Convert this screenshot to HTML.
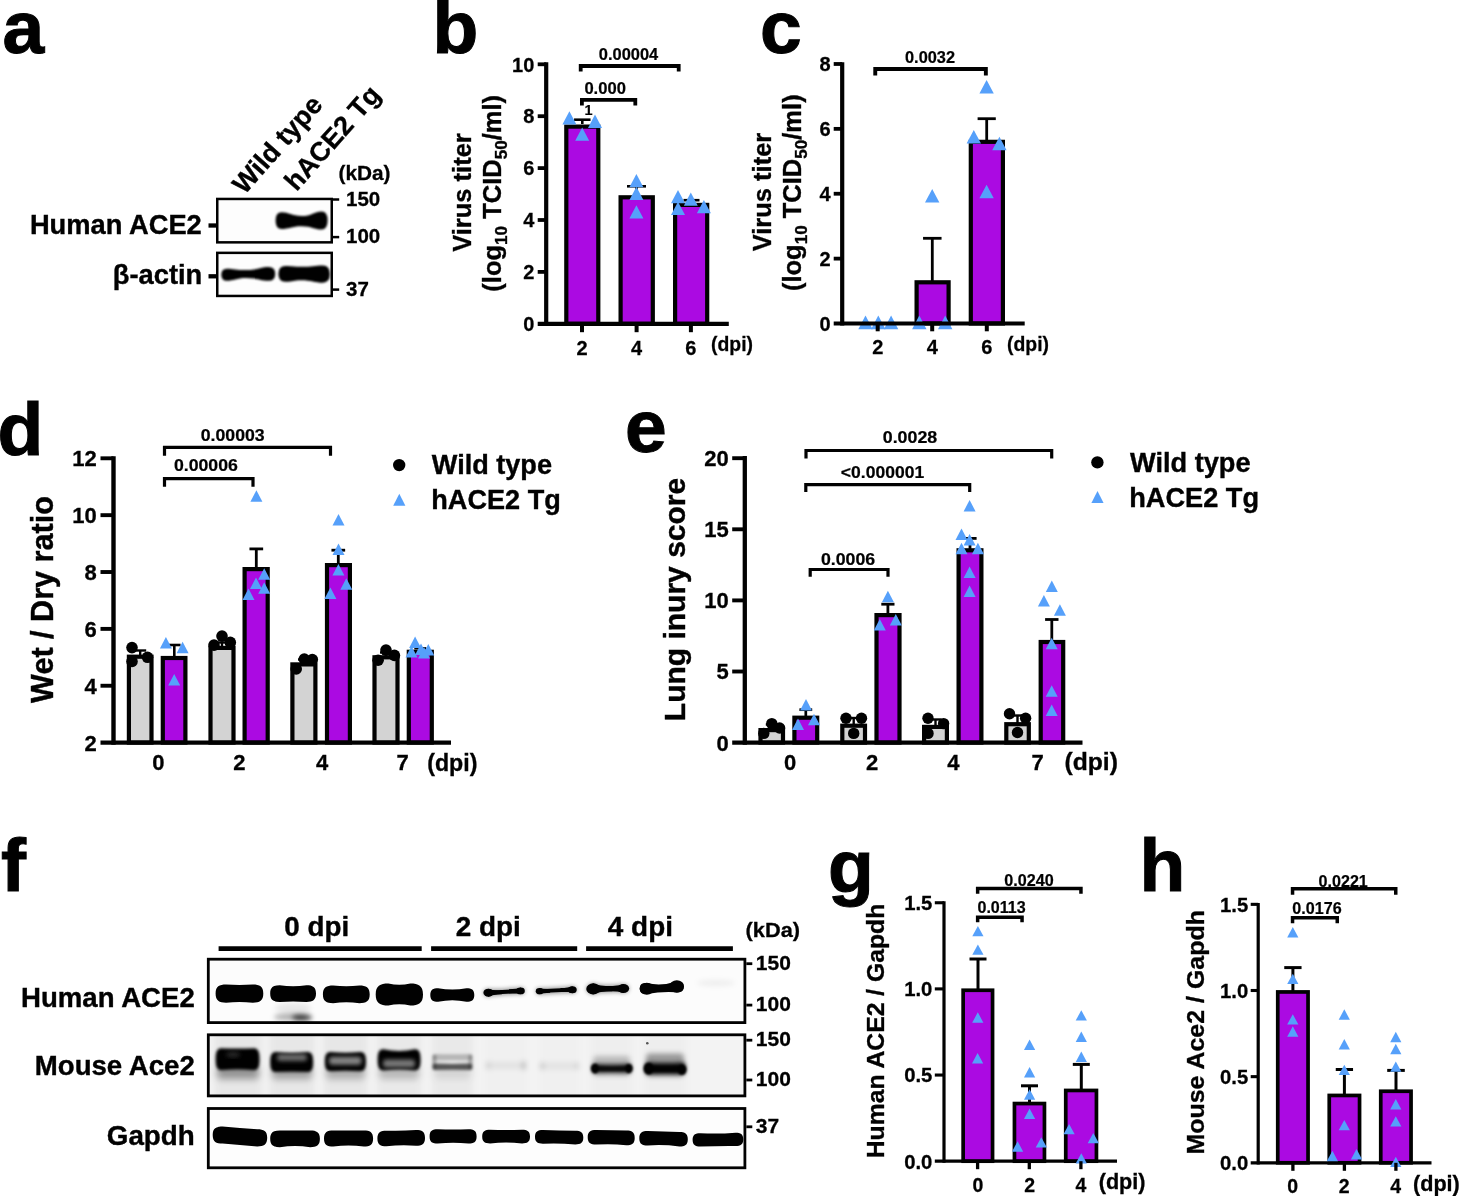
<!DOCTYPE html>
<html><head><meta charset="utf-8"><title>Figure</title>
<style>html,body{margin:0;padding:0;background:#fff}svg{display:block}text{font-family:"Liberation Sans",sans-serif;font-weight:bold;fill:#000;stroke:#000;stroke-width:.014em}</style></head><body>
<svg width="1460" height="1196" viewBox="0 0 1460 1196">
<defs><filter id="b0" x="-20%" y="-50%" width="140%" height="200%"><feGaussianBlur stdDeviation="0.7"/></filter><filter id="b1" x="-20%" y="-50%" width="140%" height="200%"><feGaussianBlur stdDeviation="1.3"/></filter><filter id="b13" x="-20%" y="-60%" width="140%" height="220%"><feGaussianBlur stdDeviation="1.55"/></filter><filter id="b15" x="-20%" y="-60%" width="140%" height="220%"><feGaussianBlur stdDeviation="1.9"/></filter><filter id="b2" x="-20%" y="-60%" width="140%" height="220%"><feGaussianBlur stdDeviation="2.4"/></filter><filter id="b3" x="-20%" y="-80%" width="140%" height="260%"><feGaussianBlur stdDeviation="3.5"/></filter></defs>
<rect width="1460" height="1196" fill="#fff"/>
<g opacity="0.999">
<text x="2.5" y="53" font-size="75">a</text>
<text x="432.5" y="53" font-size="75">b</text>
<text x="760" y="53" font-size="75">c</text>
<text x="-2.5" y="455" font-size="75">d</text>
<text x="625" y="452" font-size="75">e</text>
<text x="1" y="891" font-size="75">f</text>
<text x="828" y="891.5" font-size="75">g</text>
<text x="1139.5" y="891" font-size="75">h</text>
<text x="244.5" y="195.3" font-size="27" transform="rotate(-48.5 244.5 195.3)">Wild type</text>
<text x="296.5" y="192.2" font-size="27" transform="rotate(-48.5 296.5 192.2)">hACE2 Tg</text>
<text x="338.5" y="179.8" font-size="21" textLength="52" lengthAdjust="spacingAndGlyphs">(kDa)</text>
<text x="201.8" y="233.8" font-size="27.3" text-anchor="end">Human ACE2</text>
<text x="202.3" y="284" font-size="27.3" text-anchor="end">β-actin</text>
<line x1="208.5" y1="225.5" x2="217" y2="225.5" stroke="#000" stroke-width="4.3"/>
<line x1="208.5" y1="276.3" x2="217" y2="276.3" stroke="#000" stroke-width="4.3"/>
<rect x="217.25" y="198.95" width="114.5" height="43.4" fill="#fdfdfd" stroke="#000" stroke-width="2.5"/>
<rect x="217.25" y="252.85" width="114.5" height="43.1" fill="#fdfdfd" stroke="#000" stroke-width="2.5"/>
<line x1="333" y1="199.5" x2="339.2" y2="199.5" stroke="#000" stroke-width="2.5"/>
<text x="346" y="205.5" font-size="20.5">150</text>
<line x1="333" y1="237.1" x2="339.2" y2="237.1" stroke="#000" stroke-width="2.5"/>
<text x="346" y="243.1" font-size="20.5">100</text>
<line x1="333" y1="289.6" x2="339.2" y2="289.6" stroke="#000" stroke-width="2.5"/>
<text x="346" y="295.6" font-size="20.5">37</text>
<g filter="url(#b1)">
<path d="M275.6 220.65 Q275.6 212.3 281.6 212.3 C288.8 212.3 291.6 216 301.6 216 C311.6 216 314.4 211.4 321.6 211.4 Q327.6 211.4 327.6 220.45 Q327.6 229.5 321.6 229.5 C314.4 229.5 311.6 226.2 301.6 226.2 C291.6 226.2 288.8 229 281.6 229 Q275.6 229 275.6 220.65Z" fill="#000"/>
<path d="M221.3 274.75 Q221.3 268.7 226.8 268.7 C233.4 268.7 236.4 270.1 246 270.1 C257.35 270.1 260.9 267.1 268.7 267.1 Q275.2 267.1 275.2 273.95 Q275.2 280.8 268.7 280.8 C260.9 280.8 257.35 278 246 278 C236.4 278 233.4 280.8 226.8 280.8 Q221.3 280.8 221.3 274.75Z" fill="#000"/>
<path d="M278.4 273.85 Q278.4 265.9 285.4 265.9 C293.8 265.9 293.2 266.8 301 266.8 C311.95 266.8 314.5 265.4 322.9 265.4 Q329.9 265.4 329.9 274.05 Q329.9 282.7 322.9 282.7 C314.5 282.7 311.95 280.2 301 280.2 C293.2 280.2 293.8 281.8 285.4 281.8 Q278.4 281.8 278.4 273.85Z" fill="#000"/>
</g>
<rect x="566.3" y="126.6" width="32" height="197.2" fill="#AB0AE2" stroke="#000" stroke-width="4.2"/>
<rect x="620.6" y="197.3" width="32.2" height="126.5" fill="#AB0AE2" stroke="#000" stroke-width="4.2"/>
<rect x="675.1" y="204.9" width="32.1" height="118.9" fill="#AB0AE2" stroke="#000" stroke-width="4.2"/>
<line x1="582.3" y1="119.7" x2="582.3" y2="124" stroke="#000" stroke-width="2.6"/>
<line x1="574.05" y1="119.7" x2="590.55" y2="119.7" stroke="#000" stroke-width="2.6"/>
<line x1="636.5" y1="186.3" x2="636.5" y2="195.5" stroke="#000" stroke-width="2.6"/>
<line x1="627" y1="186.3" x2="646" y2="186.3" stroke="#000" stroke-width="2.6"/>
<line x1="691.5" y1="200.2" x2="691.5" y2="203.5" stroke="#000" stroke-width="2.6"/>
<line x1="683.5" y1="200.2" x2="699.5" y2="200.2" stroke="#000" stroke-width="2.6"/>
<line x1="546.2" y1="62.2" x2="546.2" y2="325.9" stroke="#000" stroke-width="4.2"/>
<line x1="537.7" y1="323.8" x2="728.8" y2="323.8" stroke="#000" stroke-width="4.2"/>
<line x1="537.7" y1="271.9" x2="546.2" y2="271.9" stroke="#000" stroke-width="3.8"/>
<line x1="537.7" y1="220" x2="546.2" y2="220" stroke="#000" stroke-width="3.8"/>
<line x1="537.7" y1="168.1" x2="546.2" y2="168.1" stroke="#000" stroke-width="3.8"/>
<line x1="537.7" y1="116.2" x2="546.2" y2="116.2" stroke="#000" stroke-width="3.8"/>
<line x1="537.7" y1="64.3" x2="546.2" y2="64.3" stroke="#000" stroke-width="3.8"/>
<line x1="582" y1="323.8" x2="582" y2="332.2" stroke="#000" stroke-width="4"/>
<line x1="636.6" y1="323.8" x2="636.6" y2="332.2" stroke="#000" stroke-width="4"/>
<line x1="690.9" y1="323.8" x2="690.9" y2="332.2" stroke="#000" stroke-width="4"/>
<text x="534.3" y="331" font-size="20" text-anchor="end">0</text>
<text x="534.3" y="279.1" font-size="20" text-anchor="end">2</text>
<text x="534.3" y="227.2" font-size="20" text-anchor="end">4</text>
<text x="534.3" y="175.3" font-size="20" text-anchor="end">6</text>
<text x="534.3" y="123.4" font-size="20" text-anchor="end">8</text>
<text x="534.3" y="71.5" font-size="20" text-anchor="end">10</text>
<text x="582" y="355" font-size="20" text-anchor="middle">2</text>
<text x="636.6" y="355" font-size="20" text-anchor="middle">4</text>
<text x="690.9" y="355" font-size="20" text-anchor="middle">6</text>
<text x="711" y="351" font-size="19.5" textLength="42" lengthAdjust="spacingAndGlyphs">(dpi)</text>
<text x="470.7" y="192.5" font-size="25.5" text-anchor="middle" transform="rotate(-90 470.7 192.5)">Virus titer</text>
<text x="501" y="193.3" font-size="25.5" text-anchor="middle" transform="rotate(-90 501 193.3)">(log<tspan font-size="17.09" dy="5.87">10</tspan><tspan dy="-5.87"> TCID</tspan><tspan font-size="17.09" dy="5.87">50</tspan><tspan dy="-5.87">/ml)</tspan></text>
<polygon points="569.4,111.3 562.4,124.6 576.4,124.6" fill="#56A0FA"/>
<polygon points="595,114.6 588,127.9 602,127.9" fill="#56A0FA"/>
<polygon points="582.2,127.5 575.2,140.8 589.2,140.8" fill="#56A0FA"/>
<polygon points="636.4,174 629.4,187.3 643.4,187.3" fill="#56A0FA"/>
<polygon points="636.4,186.8 629.4,200.1 643.4,200.1" fill="#56A0FA"/>
<polygon points="636.4,205.2 629.4,218.5 643.4,218.5" fill="#56A0FA"/>
<polygon points="678,190 671,203.3 685,203.3" fill="#56A0FA"/>
<polygon points="690.8,192.4 683.8,205.7 697.8,205.7" fill="#56A0FA"/>
<polygon points="678,201.8 671,215.1 685,215.1" fill="#56A0FA"/>
<polygon points="703.9,200 696.9,213.3 710.9,213.3" fill="#56A0FA"/>
<path d="M580.7 71.6 V66 H678.7 V71.6" fill="none" stroke="#000" stroke-width="3.8"/>
<text x="628.5" y="60" font-size="16" text-anchor="middle" textLength="59.5" lengthAdjust="spacingAndGlyphs">0.00004</text>
<path d="M581.9 105.6 V99.9 H635.3 V105.6" fill="none" stroke="#000" stroke-width="3.8"/>
<text x="584.4" y="94" font-size="16" textLength="41.5" lengthAdjust="spacingAndGlyphs">0.000</text>
<text x="584.4" y="114.6" font-size="14.5">1</text>
<rect x="916.6" y="282.3" width="32" height="41.2" fill="#AB0AE2" stroke="#000" stroke-width="4.2"/>
<rect x="970.8" y="141.84" width="32.1" height="181.66" fill="#AB0AE2" stroke="#000" stroke-width="4.2"/>
<line x1="932.3" y1="238.3" x2="932.3" y2="281" stroke="#000" stroke-width="2.8"/>
<line x1="923.05" y1="238.3" x2="941.55" y2="238.3" stroke="#000" stroke-width="2.8"/>
<line x1="986.7" y1="118.7" x2="986.7" y2="140.5" stroke="#000" stroke-width="2.8"/>
<line x1="977.6" y1="118.7" x2="995.8" y2="118.7" stroke="#000" stroke-width="2.8"/>
<text x="830.7" y="330.7" font-size="20" text-anchor="end">0</text>
<text x="830.7" y="265.82" font-size="20" text-anchor="end">2</text>
<text x="830.7" y="200.94" font-size="20" text-anchor="end">4</text>
<text x="830.7" y="136.06" font-size="20" text-anchor="end">6</text>
<text x="830.7" y="71.18" font-size="20" text-anchor="end">8</text>
<polygon points="865.5,315.6 858.3,329.2 872.7,329.2" fill="#56A0FA"/>
<polygon points="878.3,315.6 871.1,329.2 885.5,329.2" fill="#56A0FA"/>
<polygon points="891.1,315.6 883.9,329.2 898.3,329.2" fill="#56A0FA"/>
<polygon points="919.3,315.6 912.1,329.2 926.5,329.2" fill="#56A0FA"/>
<polygon points="945.2,315.6 938,329.2 952.4,329.2" fill="#56A0FA"/>
<polygon points="932.2,189 925,202.6 939.4,202.6" fill="#56A0FA"/>
<polygon points="986.6,79.9 979.4,93.5 993.8,93.5" fill="#56A0FA"/>
<polygon points="973.8,130 966.6,143.6 981,143.6" fill="#56A0FA"/>
<polygon points="999.4,136.7 992.2,150.3 1006.6,150.3" fill="#56A0FA"/>
<polygon points="986.6,184.7 979.4,198.3 993.8,198.3" fill="#56A0FA"/>
<line x1="842.2" y1="62.2" x2="842.2" y2="325.6" stroke="#000" stroke-width="4.2"/>
<line x1="833.7" y1="323.5" x2="1024.7" y2="323.5" stroke="#000" stroke-width="4.2"/>
<line x1="833.7" y1="258.62" x2="842.2" y2="258.62" stroke="#000" stroke-width="3.8"/>
<line x1="833.7" y1="193.74" x2="842.2" y2="193.74" stroke="#000" stroke-width="3.8"/>
<line x1="833.7" y1="128.86" x2="842.2" y2="128.86" stroke="#000" stroke-width="3.8"/>
<line x1="833.7" y1="63.98" x2="842.2" y2="63.98" stroke="#000" stroke-width="3.8"/>
<line x1="877.7" y1="323.5" x2="877.7" y2="331.3" stroke="#000" stroke-width="4"/>
<line x1="932.2" y1="323.5" x2="932.2" y2="331.3" stroke="#000" stroke-width="4"/>
<line x1="986.8" y1="323.5" x2="986.8" y2="331.3" stroke="#000" stroke-width="4"/>
<text x="877.9" y="354.3" font-size="20" text-anchor="middle">2</text>
<text x="932.4" y="354.3" font-size="20" text-anchor="middle">4</text>
<text x="986.9" y="354.3" font-size="20" text-anchor="middle">6</text>
<text x="1007" y="350.5" font-size="19.5" textLength="42" lengthAdjust="spacingAndGlyphs">(dpi)</text>
<text x="770.9" y="192" font-size="25.5" text-anchor="middle" transform="rotate(-90 770.9 192)">Virus titer</text>
<text x="801" y="192.7" font-size="25.5" text-anchor="middle" transform="rotate(-90 801 192.7)">(log<tspan font-size="17.09" dy="5.87">10</tspan><tspan dy="-5.87"> TCID</tspan><tspan font-size="17.09" dy="5.87">50</tspan><tspan dy="-5.87">/ml)</tspan></text>
<path d="M875.25 75.4 V69.05 H985.85 V75.4" fill="none" stroke="#000" stroke-width="3.9"/>
<text x="930" y="62.5" font-size="16" text-anchor="middle" textLength="50" lengthAdjust="spacingAndGlyphs">0.0032</text>
<rect x="128.9" y="656.7" width="22.6" height="85.9" fill="#D3D3D3" stroke="#000" stroke-width="4.2"/>
<rect x="210.5" y="647.9" width="23" height="94.7" fill="#D3D3D3" stroke="#000" stroke-width="4.2"/>
<rect x="292.4" y="664.4" width="23" height="78.2" fill="#D3D3D3" stroke="#000" stroke-width="4.2"/>
<rect x="374.5" y="657.3" width="23" height="85.3" fill="#D3D3D3" stroke="#000" stroke-width="4.2"/>
<rect x="162.8" y="658" width="22.6" height="84.6" fill="#AB0AE2" stroke="#000" stroke-width="4.2"/>
<rect x="244.6" y="569.1" width="23.1" height="173.5" fill="#AB0AE2" stroke="#000" stroke-width="4.2"/>
<rect x="327" y="565.1" width="22.9" height="177.5" fill="#AB0AE2" stroke="#000" stroke-width="4.2"/>
<rect x="408.8" y="651.8" width="23" height="90.8" fill="#AB0AE2" stroke="#000" stroke-width="4.2"/>
<line x1="140.2" y1="650.5" x2="140.2" y2="656" stroke="#000" stroke-width="2.4"/>
<line x1="134.2" y1="650.5" x2="146.2" y2="650.5" stroke="#000" stroke-width="2.4"/>
<line x1="222" y1="642.5" x2="222" y2="647" stroke="#000" stroke-width="2.4"/>
<line x1="216" y1="642.5" x2="228" y2="642.5" stroke="#000" stroke-width="2.4"/>
<line x1="304" y1="659.5" x2="304" y2="664" stroke="#000" stroke-width="2.4"/>
<line x1="298" y1="659.5" x2="310" y2="659.5" stroke="#000" stroke-width="2.4"/>
<line x1="386" y1="652.5" x2="386" y2="657" stroke="#000" stroke-width="2.4"/>
<line x1="380" y1="652.5" x2="392" y2="652.5" stroke="#000" stroke-width="2.4"/>
<line x1="174.3" y1="645" x2="174.3" y2="657" stroke="#000" stroke-width="2.6"/>
<line x1="168.05" y1="645" x2="180.55" y2="645" stroke="#000" stroke-width="2.6"/>
<line x1="256.3" y1="548.9" x2="256.3" y2="568" stroke="#000" stroke-width="2.8"/>
<line x1="249.45" y1="548.9" x2="263.15" y2="548.9" stroke="#000" stroke-width="2.8"/>
<line x1="338.3" y1="550.2" x2="338.3" y2="564" stroke="#000" stroke-width="2.8"/>
<line x1="331.45" y1="550.2" x2="345.15" y2="550.2" stroke="#000" stroke-width="2.8"/>
<line x1="420.3" y1="648.3" x2="420.3" y2="651" stroke="#000" stroke-width="2.4"/>
<line x1="414.3" y1="648.3" x2="426.3" y2="648.3" stroke="#000" stroke-width="2.4"/>
<line x1="113.5" y1="456.3" x2="113.5" y2="744.8" stroke="#000" stroke-width="4.4"/>
<line x1="100.5" y1="742.6" x2="451" y2="742.6" stroke="#000" stroke-width="4.4"/>
<line x1="100.5" y1="685.74" x2="113.5" y2="685.74" stroke="#000" stroke-width="3.9"/>
<line x1="100.5" y1="628.88" x2="113.5" y2="628.88" stroke="#000" stroke-width="3.9"/>
<line x1="100.5" y1="572.02" x2="113.5" y2="572.02" stroke="#000" stroke-width="3.9"/>
<line x1="100.5" y1="515.16" x2="113.5" y2="515.16" stroke="#000" stroke-width="3.9"/>
<line x1="100.5" y1="458.3" x2="113.5" y2="458.3" stroke="#000" stroke-width="3.9"/>
<text x="96.8" y="750.5" font-size="22" text-anchor="end">2</text>
<text x="96.8" y="693.64" font-size="22" text-anchor="end">4</text>
<text x="96.8" y="636.78" font-size="22" text-anchor="end">6</text>
<text x="96.8" y="579.92" font-size="22" text-anchor="end">8</text>
<text x="96.8" y="523.06" font-size="22" text-anchor="end">10</text>
<text x="96.8" y="466.2" font-size="22" text-anchor="end">12</text>
<text x="158.3" y="770.4" font-size="22" text-anchor="middle">0</text>
<text x="239.3" y="770.4" font-size="22" text-anchor="middle">2</text>
<text x="322.2" y="770.4" font-size="22" text-anchor="middle">4</text>
<text x="402.6" y="770.4" font-size="22" text-anchor="middle">7</text>
<text x="427.2" y="770.6" font-size="23" textLength="50.2" lengthAdjust="spacingAndGlyphs">(dpi)</text>
<text x="52.5" y="599.5" font-size="30.6" text-anchor="middle" transform="rotate(-90 52.5 599.5)">Wet / Dry ratio</text>
<circle cx="132" cy="647.6" r="5.8" fill="#000"/>
<circle cx="132" cy="661.5" r="5.8" fill="#000"/>
<circle cx="147.5" cy="657.3" r="5.8" fill="#000"/>
<circle cx="214" cy="645.1" r="5.8" fill="#000"/>
<circle cx="222" cy="636.1" r="5.8" fill="#000"/>
<circle cx="230.3" cy="642.4" r="5.8" fill="#000"/>
<circle cx="296.2" cy="668.9" r="5.8" fill="#000"/>
<circle cx="304.3" cy="659.1" r="5.8" fill="#000"/>
<circle cx="312.3" cy="659.5" r="5.8" fill="#000"/>
<circle cx="378.1" cy="660.2" r="5.8" fill="#000"/>
<circle cx="386" cy="650.1" r="5.8" fill="#000"/>
<circle cx="394.4" cy="655.4" r="5.8" fill="#000"/>
<polygon points="165.9,637.1 159.9,648.6 171.9,648.6" fill="#56A0FA"/>
<polygon points="182.6,641.8 176.6,653.3 188.6,653.3" fill="#56A0FA"/>
<polygon points="174.2,673.9 168.2,685.4 180.2,685.4" fill="#56A0FA"/>
<polygon points="256.4,490.3 250.4,501.8 262.4,501.8" fill="#56A0FA"/>
<polygon points="264.2,568.2 258.2,579.7 270.2,579.7" fill="#56A0FA"/>
<polygon points="256,577.6 250,589.1 262,589.1" fill="#56A0FA"/>
<polygon points="264.2,582.2 258.2,593.7 270.2,593.7" fill="#56A0FA"/>
<polygon points="248.5,588.5 242.5,600 254.5,600" fill="#56A0FA"/>
<polygon points="338.5,513.9 332.5,525.4 344.5,525.4" fill="#56A0FA"/>
<polygon points="338.5,543.4 332.5,554.9 344.5,554.9" fill="#56A0FA"/>
<polygon points="338.4,564 332.4,575.5 344.4,575.5" fill="#56A0FA"/>
<polygon points="346.3,578.2 340.3,589.7 352.3,589.7" fill="#56A0FA"/>
<polygon points="330.4,587.6 324.4,599.1 336.4,599.1" fill="#56A0FA"/>
<polygon points="415.1,636.6 409.1,648.1 421.1,648.1" fill="#56A0FA"/>
<polygon points="411.5,646 405.5,657.5 417.5,657.5" fill="#56A0FA"/>
<polygon points="421,643.5 415,655 427,655" fill="#56A0FA"/>
<polygon points="428.3,644 422.3,655.5 434.3,655.5" fill="#56A0FA"/>
<polygon points="424,647 418,658.5 430,658.5" fill="#56A0FA"/>
<path d="M164.5 455.8 V447.4 H330.5 V455.8" fill="none" stroke="#000" stroke-width="3.2"/>
<text x="232.7" y="440.5" font-size="17" text-anchor="middle" textLength="64" lengthAdjust="spacingAndGlyphs">0.00003</text>
<path d="M164.5 486.8 V478.6 H253 V486.8" fill="none" stroke="#000" stroke-width="3.2"/>
<text x="205.9" y="470.8" font-size="17" text-anchor="middle" textLength="64" lengthAdjust="spacingAndGlyphs">0.00006</text>
<circle cx="399.2" cy="465.1" r="6.2" fill="#000"/>
<polygon points="399.3,493.8 393.2,505.7 405.4,505.7" fill="#56A0FA"/>
<text x="431.8" y="474.3" font-size="27.1">Wild type</text>
<text x="431.3" y="508.9" font-size="27.1">hACE2 Tg</text>
<rect x="760.5" y="730.1" width="22.5" height="12.5" fill="#D3D3D3" stroke="#000" stroke-width="4.2"/>
<rect x="842.3" y="725.7" width="22.7" height="16.9" fill="#D3D3D3" stroke="#000" stroke-width="4.2"/>
<rect x="924.1" y="726.9" width="22.8" height="15.7" fill="#D3D3D3" stroke="#000" stroke-width="4.2"/>
<rect x="1006.3" y="724.2" width="22.5" height="18.4" fill="#D3D3D3" stroke="#000" stroke-width="4.2"/>
<rect x="794.4" y="717.7" width="22.8" height="24.9" fill="#AB0AE2" stroke="#000" stroke-width="4.2"/>
<rect x="876.5" y="615.1" width="23" height="127.5" fill="#AB0AE2" stroke="#000" stroke-width="4.2"/>
<rect x="958.6" y="550.3" width="22.8" height="192.3" fill="#AB0AE2" stroke="#000" stroke-width="4.2"/>
<rect x="1040.7" y="642" width="22.5" height="100.6" fill="#AB0AE2" stroke="#000" stroke-width="4.2"/>
<line x1="771.8" y1="724.5" x2="771.8" y2="729" stroke="#000" stroke-width="2.4"/>
<line x1="765.8" y1="724.5" x2="777.8" y2="724.5" stroke="#000" stroke-width="2.4"/>
<line x1="853.7" y1="718" x2="853.7" y2="725" stroke="#000" stroke-width="2.4"/>
<line x1="847.7" y1="718" x2="859.7" y2="718" stroke="#000" stroke-width="2.4"/>
<line x1="935.5" y1="719.5" x2="935.5" y2="726" stroke="#000" stroke-width="2.4"/>
<line x1="929.5" y1="719.5" x2="941.5" y2="719.5" stroke="#000" stroke-width="2.4"/>
<line x1="1017.5" y1="715.5" x2="1017.5" y2="723" stroke="#000" stroke-width="2.4"/>
<line x1="1011.5" y1="715.5" x2="1023.5" y2="715.5" stroke="#000" stroke-width="2.4"/>
<line x1="805.8" y1="709.7" x2="805.8" y2="717" stroke="#000" stroke-width="2.7"/>
<line x1="799.4" y1="709.7" x2="812.2" y2="709.7" stroke="#000" stroke-width="2.7"/>
<line x1="887.9" y1="604.2" x2="887.9" y2="614" stroke="#000" stroke-width="2.8"/>
<line x1="881.3" y1="604.2" x2="894.5" y2="604.2" stroke="#000" stroke-width="2.8"/>
<line x1="970" y1="538.4" x2="970" y2="549" stroke="#000" stroke-width="2.8"/>
<line x1="963.4" y1="538.4" x2="976.6" y2="538.4" stroke="#000" stroke-width="2.8"/>
<line x1="1051.8" y1="619.5" x2="1051.8" y2="641" stroke="#000" stroke-width="2.8"/>
<line x1="1045.1" y1="619.5" x2="1058.5" y2="619.5" stroke="#000" stroke-width="2.8"/>
<line x1="744.8" y1="456.1" x2="744.8" y2="744.75" stroke="#000" stroke-width="4.3"/>
<line x1="732.2" y1="742.6" x2="1082.5" y2="742.6" stroke="#000" stroke-width="4.3"/>
<line x1="732.2" y1="671.5" x2="744.8" y2="671.5" stroke="#000" stroke-width="3.9"/>
<line x1="732.2" y1="600.4" x2="744.8" y2="600.4" stroke="#000" stroke-width="3.9"/>
<line x1="732.2" y1="529.3" x2="744.8" y2="529.3" stroke="#000" stroke-width="3.9"/>
<line x1="732.2" y1="458.2" x2="744.8" y2="458.2" stroke="#000" stroke-width="3.9"/>
<text x="728.8" y="750.5" font-size="22" text-anchor="end">0</text>
<text x="728.8" y="679.4" font-size="22" text-anchor="end">5</text>
<text x="728.8" y="608.3" font-size="22" text-anchor="end">10</text>
<text x="728.8" y="537.2" font-size="22" text-anchor="end">15</text>
<text x="728.8" y="466.1" font-size="22" text-anchor="end">20</text>
<text x="790" y="770.1" font-size="22" text-anchor="middle">0</text>
<text x="872" y="770.1" font-size="22" text-anchor="middle">2</text>
<text x="953.4" y="770.1" font-size="22" text-anchor="middle">4</text>
<text x="1037.6" y="770.1" font-size="22" text-anchor="middle">7</text>
<text x="1064.5" y="770" font-size="23.5" textLength="53.4" lengthAdjust="spacingAndGlyphs">(dpi)</text>
<text x="685" y="599.5" font-size="30" text-anchor="middle" transform="rotate(-90 685 599.5)">Lung inury score</text>
<circle cx="763.8" cy="733.4" r="5.7" fill="#000"/>
<circle cx="771.8" cy="723.6" r="5.7" fill="#000"/>
<circle cx="779.6" cy="728" r="5.7" fill="#000"/>
<circle cx="846" cy="718.2" r="5.7" fill="#000"/>
<circle cx="861.5" cy="718.2" r="5.7" fill="#000"/>
<circle cx="853.7" cy="733.4" r="5.7" fill="#000"/>
<circle cx="928" cy="718.2" r="5.7" fill="#000"/>
<circle cx="943.6" cy="723.6" r="5.7" fill="#000"/>
<circle cx="928" cy="733.4" r="5.7" fill="#000"/>
<circle cx="1009.5" cy="713.8" r="5.7" fill="#000"/>
<circle cx="1025.6" cy="718.2" r="5.7" fill="#000"/>
<circle cx="1017.5" cy="732.5" r="5.7" fill="#000"/>
<polygon points="806,699 800,710.5 812,710.5" fill="#56A0FA"/>
<polygon points="814,713.8 808,725.3 820,725.3" fill="#56A0FA"/>
<polygon points="798,718.6 792,730.1 804,730.1" fill="#56A0FA"/>
<polygon points="887.9,590.7 881.9,602.2 893.9,602.2" fill="#56A0FA"/>
<polygon points="895.8,614 889.8,625.5 901.8,625.5" fill="#56A0FA"/>
<polygon points="879.8,619 873.8,630.5 885.8,630.5" fill="#56A0FA"/>
<polygon points="969.6,500 963.6,511.5 975.6,511.5" fill="#56A0FA"/>
<polygon points="961.5,528.5 955.5,540 967.5,540" fill="#56A0FA"/>
<polygon points="969.6,534 963.6,545.5 975.6,545.5" fill="#56A0FA"/>
<polygon points="961.5,542.7 955.5,554.2 967.5,554.2" fill="#56A0FA"/>
<polygon points="977.9,542.7 971.9,554.2 983.9,554.2" fill="#56A0FA"/>
<polygon points="969.6,566.4 963.6,577.9 975.6,577.9" fill="#56A0FA"/>
<polygon points="969.6,585.5 963.6,597 975.6,597" fill="#56A0FA"/>
<polygon points="1051.8,580.4 1045.8,591.9 1057.8,591.9" fill="#56A0FA"/>
<polygon points="1043.9,595 1037.9,606.5 1049.9,606.5" fill="#56A0FA"/>
<polygon points="1059.9,604.3 1053.9,615.8 1065.9,615.8" fill="#56A0FA"/>
<polygon points="1051.7,637.7 1045.7,649.2 1057.7,649.2" fill="#56A0FA"/>
<polygon points="1051.7,685.3 1045.7,696.8 1057.7,696.8" fill="#56A0FA"/>
<polygon points="1051.7,704.5 1045.7,716 1057.7,716" fill="#56A0FA"/>
<path d="M806 458.4 V450.5 H1051.7 V458.4" fill="none" stroke="#000" stroke-width="3.2"/>
<text x="910" y="443.4" font-size="17" text-anchor="middle" textLength="54.5" lengthAdjust="spacingAndGlyphs">0.0028</text>
<path d="M805.8 491.9 V484.7 H969.7 V491.9" fill="none" stroke="#000" stroke-width="3.2"/>
<text x="882.5" y="478" font-size="17" text-anchor="middle" textLength="83.3" lengthAdjust="spacingAndGlyphs">&lt;0.000001</text>
<path d="M810.2 576.7 V569.5 H888 V576.7" fill="none" stroke="#000" stroke-width="3.2"/>
<text x="848.1" y="565" font-size="17" text-anchor="middle" textLength="54.3" lengthAdjust="spacingAndGlyphs">0.0006</text>
<circle cx="1097.4" cy="462.4" r="6.2" fill="#000"/>
<polygon points="1097.5,491.1 1091.4,502.9 1103.6,502.9" fill="#56A0FA"/>
<text x="1130" y="471.5" font-size="27.2">Wild type</text>
<text x="1129.2" y="506.6" font-size="27.2">hACE2 Tg</text>
<rect x="963.15" y="990.25" width="29.4" height="170.95" fill="#AB0AE2" stroke="#000" stroke-width="3.7"/>
<rect x="1014.45" y="1103.55" width="30" height="57.65" fill="#AB0AE2" stroke="#000" stroke-width="3.7"/>
<rect x="1065.75" y="1090.45" width="30.7" height="70.75" fill="#AB0AE2" stroke="#000" stroke-width="3.7"/>
<line x1="978" y1="959" x2="978" y2="990" stroke="#000" stroke-width="3"/>
<line x1="969.5" y1="959" x2="986.5" y2="959" stroke="#000" stroke-width="3"/>
<line x1="1029.5" y1="1085.8" x2="1029.5" y2="1103" stroke="#000" stroke-width="3"/>
<line x1="1021" y1="1085.8" x2="1038" y2="1085.8" stroke="#000" stroke-width="3"/>
<line x1="1081.3" y1="1064.4" x2="1081.3" y2="1090" stroke="#000" stroke-width="3"/>
<line x1="1072.8" y1="1064.4" x2="1089.8" y2="1064.4" stroke="#000" stroke-width="3"/>
<line x1="944" y1="901.3" x2="944" y2="1162.8" stroke="#000" stroke-width="3.2"/>
<line x1="934.8" y1="1161.2" x2="1117" y2="1161.2" stroke="#000" stroke-width="3.3"/>
<line x1="934.8" y1="1075.05" x2="944" y2="1075.05" stroke="#000" stroke-width="3.1"/>
<line x1="934.8" y1="988.9" x2="944" y2="988.9" stroke="#000" stroke-width="3.1"/>
<line x1="934.8" y1="902.75" x2="944" y2="902.75" stroke="#000" stroke-width="3.1"/>
<text x="932.4" y="1168.5" font-size="20.3" text-anchor="end">0.0</text>
<text x="932.4" y="1082.35" font-size="20.3" text-anchor="end">0.5</text>
<text x="932.4" y="996.2" font-size="20.3" text-anchor="end">1.0</text>
<text x="932.4" y="910.05" font-size="20.3" text-anchor="end">1.5</text>
<polygon points="977.9,925.9 972.3,936.3 983.5,936.3" fill="#56A0FA"/>
<polygon points="977.9,944.4 972.3,954.8 983.5,954.8" fill="#56A0FA"/>
<polygon points="977.8,1012.3 972.2,1022.7 983.4,1022.7" fill="#56A0FA"/>
<polygon points="977.6,1053.1 972,1063.5 983.2,1063.5" fill="#56A0FA"/>
<polygon points="1029.6,1039.6 1024,1050 1035.2,1050" fill="#56A0FA"/>
<polygon points="1029.6,1067.1 1024,1077.5 1035.2,1077.5" fill="#56A0FA"/>
<polygon points="1029.6,1089.3 1024,1099.7 1035.2,1099.7" fill="#56A0FA"/>
<polygon points="1029.6,1108.5 1024,1118.9 1035.2,1118.9" fill="#56A0FA"/>
<polygon points="1017.6,1141.3 1012,1151.7 1023.2,1151.7" fill="#56A0FA"/>
<polygon points="1041.3,1137.2 1035.7,1147.6 1046.9,1147.6" fill="#56A0FA"/>
<polygon points="1081.3,1010.2 1075.7,1020.6 1086.9,1020.6" fill="#56A0FA"/>
<polygon points="1081.3,1031.6 1075.7,1042 1086.9,1042" fill="#56A0FA"/>
<polygon points="1081.3,1051.5 1075.7,1061.9 1086.9,1061.9" fill="#56A0FA"/>
<polygon points="1069.1,1123.9 1063.5,1134.3 1074.7,1134.3" fill="#56A0FA"/>
<polygon points="1093.3,1132.9 1087.7,1143.3 1098.9,1143.3" fill="#56A0FA"/>
<polygon points="1081.3,1153.2 1075.7,1163.6 1086.9,1163.6" fill="#56A0FA"/>
<line x1="977.6" y1="1161.2" x2="977.6" y2="1169.2" stroke="#000" stroke-width="3.3"/>
<line x1="1029.3" y1="1161.2" x2="1029.3" y2="1169.2" stroke="#000" stroke-width="3.3"/>
<line x1="1080.9" y1="1161.2" x2="1080.9" y2="1169.2" stroke="#000" stroke-width="3.3"/>
<text x="978" y="1191.8" font-size="19.5" text-anchor="middle">0</text>
<text x="1029.6" y="1191.8" font-size="19.5" text-anchor="middle">2</text>
<text x="1080.9" y="1191.8" font-size="19.5" text-anchor="middle">4</text>
<text x="1098.7" y="1189.1" font-size="22" textLength="46.8" lengthAdjust="spacingAndGlyphs">(dpi)</text>
<text x="884.3" y="1031" font-size="23.5" text-anchor="middle" transform="rotate(-90 884.3 1031)" textLength="254.5" lengthAdjust="spacingAndGlyphs">Human ACE2 / Gapdh</text>
<path d="M977.65 893.8 V888.55 H1080.95 V893.8" fill="none" stroke="#000" stroke-width="3.5"/>
<text x="1029" y="885.6" font-size="15.8" text-anchor="middle" textLength="49.4" lengthAdjust="spacingAndGlyphs">0.0240</text>
<path d="M977.65 922.2 V917.15 H1022.05 V922.2" fill="none" stroke="#000" stroke-width="3.5"/>
<text x="1001.6" y="913.4" font-size="15.8" text-anchor="middle" textLength="48.3" lengthAdjust="spacingAndGlyphs">0.0113</text>
<rect x="1277.75" y="991.95" width="30.3" height="170.85" fill="#AB0AE2" stroke="#000" stroke-width="3.7"/>
<rect x="1329.25" y="1095.45" width="30.3" height="67.35" fill="#AB0AE2" stroke="#000" stroke-width="3.7"/>
<rect x="1380.75" y="1091.25" width="30.3" height="71.55" fill="#AB0AE2" stroke="#000" stroke-width="3.7"/>
<line x1="1292.9" y1="967.6" x2="1292.9" y2="991.5" stroke="#000" stroke-width="3"/>
<line x1="1284.25" y1="967.6" x2="1301.55" y2="967.6" stroke="#000" stroke-width="3"/>
<line x1="1344.4" y1="1069.5" x2="1344.4" y2="1095" stroke="#000" stroke-width="3"/>
<line x1="1335.75" y1="1069.5" x2="1353.05" y2="1069.5" stroke="#000" stroke-width="3"/>
<line x1="1396" y1="1070.4" x2="1396" y2="1091" stroke="#000" stroke-width="3"/>
<line x1="1387.2" y1="1070.4" x2="1404.8" y2="1070.4" stroke="#000" stroke-width="3"/>
<line x1="1258.2" y1="902.9" x2="1258.2" y2="1164.4" stroke="#000" stroke-width="3.2"/>
<line x1="1250.7" y1="1162.8" x2="1431.5" y2="1162.8" stroke="#000" stroke-width="3.3"/>
<line x1="1250.7" y1="1076.65" x2="1258.2" y2="1076.65" stroke="#000" stroke-width="3.1"/>
<line x1="1250.7" y1="990.5" x2="1258.2" y2="990.5" stroke="#000" stroke-width="3.1"/>
<line x1="1250.7" y1="904.35" x2="1258.2" y2="904.35" stroke="#000" stroke-width="3.1"/>
<text x="1248.3" y="1170.1" font-size="20.3" text-anchor="end">0.0</text>
<text x="1248.3" y="1083.95" font-size="20.3" text-anchor="end">0.5</text>
<text x="1248.3" y="997.8" font-size="20.3" text-anchor="end">1.0</text>
<text x="1248.3" y="911.65" font-size="20.3" text-anchor="end">1.5</text>
<polygon points="1292.8,927 1287.2,937.4 1298.4,937.4" fill="#56A0FA"/>
<polygon points="1292.8,973.7 1287.2,984.1 1298.4,984.1" fill="#56A0FA"/>
<polygon points="1292.8,1014.2 1287.2,1024.6 1298.4,1024.6" fill="#56A0FA"/>
<polygon points="1292.8,1026.3 1287.2,1036.7 1298.4,1036.7" fill="#56A0FA"/>
<polygon points="1344.3,1009.3 1338.7,1019.7 1349.9,1019.7" fill="#56A0FA"/>
<polygon points="1344.3,1039 1338.7,1049.4 1349.9,1049.4" fill="#56A0FA"/>
<polygon points="1344.3,1064.7 1338.7,1075.1 1349.9,1075.1" fill="#56A0FA"/>
<polygon points="1344.3,1119.9 1338.7,1130.3 1349.9,1130.3" fill="#56A0FA"/>
<polygon points="1332.4,1150.8 1326.8,1161.2 1338,1161.2" fill="#56A0FA"/>
<polygon points="1356.5,1149 1350.9,1159.4 1362.1,1159.4" fill="#56A0FA"/>
<polygon points="1395.8,1031.8 1390.2,1042.2 1401.4,1042.2" fill="#56A0FA"/>
<polygon points="1395.8,1043.8 1390.2,1054.2 1401.4,1054.2" fill="#56A0FA"/>
<polygon points="1395.8,1061.4 1390.2,1071.8 1401.4,1071.8" fill="#56A0FA"/>
<polygon points="1395.8,1099.1 1390.2,1109.5 1401.4,1109.5" fill="#56A0FA"/>
<polygon points="1395.8,1116.2 1390.2,1126.6 1401.4,1126.6" fill="#56A0FA"/>
<polygon points="1395.8,1156.7 1390.2,1167.1 1401.4,1167.1" fill="#56A0FA"/>
<line x1="1292.9" y1="1162.8" x2="1292.9" y2="1170.8" stroke="#000" stroke-width="3.3"/>
<line x1="1344.4" y1="1162.8" x2="1344.4" y2="1170.8" stroke="#000" stroke-width="3.3"/>
<line x1="1395.9" y1="1162.8" x2="1395.9" y2="1170.8" stroke="#000" stroke-width="3.3"/>
<text x="1292.8" y="1193.4" font-size="19.5" text-anchor="middle">0</text>
<text x="1344.3" y="1193.4" font-size="19.5" text-anchor="middle">2</text>
<text x="1395.8" y="1193.4" font-size="19.5" text-anchor="middle">4</text>
<text x="1413" y="1190.7" font-size="22" textLength="46.8" lengthAdjust="spacingAndGlyphs">(dpi)</text>
<text x="1203.6" y="1032.3" font-size="23.5" text-anchor="middle" transform="rotate(-90 1203.6 1032.3)" textLength="244.5" lengthAdjust="spacingAndGlyphs">Mouse Ace2 / Gapdh</text>
<path d="M1292.55 894.8 V888.85 H1395.75 V894.8" fill="none" stroke="#000" stroke-width="3.5"/>
<text x="1343.2" y="887.1" font-size="15.8" text-anchor="middle" textLength="49.3" lengthAdjust="spacingAndGlyphs">0.0221</text>
<path d="M1292.55 923.3 V917.75 H1337.25 V923.3" fill="none" stroke="#000" stroke-width="3.5"/>
<text x="1317" y="914.1" font-size="15.8" text-anchor="middle" textLength="49.3" lengthAdjust="spacingAndGlyphs">0.0176</text>
<text x="194.8" y="1006.7" font-size="27.6" text-anchor="end">Human ACE2</text>
<text x="194.8" y="1075.1" font-size="27.6" text-anchor="end">Mouse Ace2</text>
<text x="194.8" y="1145" font-size="27.8" text-anchor="end">Gapdh</text>
<text x="316.8" y="936.3" font-size="27.8" text-anchor="middle">0 dpi</text>
<text x="488.3" y="936.3" font-size="27.9" text-anchor="middle">2 dpi</text>
<text x="640.4" y="936.3" font-size="27.9" text-anchor="middle">4 dpi</text>
<line x1="218.6" y1="948.6" x2="421.7" y2="948.6" stroke="#000" stroke-width="4.9"/>
<line x1="431.1" y1="948.6" x2="577.2" y2="948.6" stroke="#000" stroke-width="4.9"/>
<line x1="586.1" y1="948.6" x2="732.9" y2="948.6" stroke="#000" stroke-width="4.9"/>
<text x="745.6" y="937.1" font-size="20.7" textLength="54.4" lengthAdjust="spacingAndGlyphs">(kDa)</text>
<clipPath id="c1"><rect x="208" y="959" width="537" height="64"/></clipPath>
<clipPath id="c2"><rect x="208" y="1035" width="537" height="61"/></clipPath>
<clipPath id="c3"><rect x="208" y="1108" width="537" height="60"/></clipPath>
<rect x="208.3" y="959.2" width="536.6" height="63.4" fill="#fcfcfc"/>
<rect x="208.3" y="1034.8" width="536.6" height="61.1" fill="#f3f3f3"/>
<rect x="208.3" y="1108.5" width="536.6" height="59.3" fill="#fdfdfd"/>
<g clip-path="url(#c1)"><g filter="url(#b0)">
<path d="M215.6 993.6 C215.6 986.32 219.26 984.5 226.06 984.5 Q239.45 985.3 252.84 984.5 C259.64 984.5 263.3 986.32 263.3 993.6 C263.3 1000.88 259.64 1002.7 252.84 1002.7 Q239.45 1001.5 226.06 1002.7 C219.26 1002.7 215.6 1000.88 215.6 993.6Z" fill="#000"/>
<path d="M270.2 993.6 C270.2 986.96 273.54 985.3 279.75 985.3 Q293.1 987.3 306.45 985.3 C312.66 985.3 316 986.96 316 993.6 C316 1000.24 312.66 1001.9 306.45 1001.9 Q293.1 1001.3 279.75 1001.9 C273.54 1001.9 270.2 1000.24 270.2 993.6Z" fill="#000"/>
<path d="M322.9 994.3 C322.9 987.18 326.48 985.4 333.13 985.4 Q346.3 987 359.46 985.4 C366.12 985.4 369.7 987.18 369.7 994.3 C369.7 1001.42 366.12 1003.2 359.46 1003.2 Q346.3 1001.4 333.13 1003.2 C326.48 1003.2 322.9 1001.42 322.9 994.3Z" fill="#000"/>
<path d="M375.7 994.6 C375.7 985.8 380.13 983.6 388.35 983.6 Q399.35 986 410.35 983.6 C418.57 983.6 423 985.8 423 994.6 C423 1003.4 418.57 1005.6 410.35 1005.6 Q399.35 1002.8 388.35 1005.6 C380.13 1005.6 375.7 1003.4 375.7 994.6Z" fill="#000"/>
<path d="M430.3 995 C430.3 989.56 433.04 988.2 438.12 988.2 Q452.3 991 466.48 988.2 C471.56 988.2 474.3 989.56 474.3 995 C474.3 1000.44 471.56 1001.8 466.48 1001.8 Q452.3 998.6 438.12 1001.8 C433.04 1001.8 430.3 1000.44 430.3 995Z" fill="#000"/>
<path d="M488 990.7 L520.9 988.9 L520.9 992.9 L488 994.7Z" fill="#000"/>
<ellipse cx="488.4" cy="992.7" rx="5" ry="4" fill="#000"/>
<ellipse cx="520.56" cy="990.9" rx="4.25" ry="3.4" fill="#000"/>
<path d="M488 988.7 Q492.8 990.7 502 990.34 L502 994.34 Q492.8 994.7 488 996.7Z" fill="#000"/>
<path d="M520.9 987.5 Q516.82 988.9 509 989.26 L509 993.26 Q516.82 992.9 520.9 994.3Z" fill="#000"/>
<path d="M539.3 989.3 L572.7 987.8 L572.7 991.6 L539.3 993.1Z" fill="#000"/>
<ellipse cx="539.61" cy="991.2" rx="3.88" ry="3.1" fill="#000"/>
<ellipse cx="572.35" cy="989.7" rx="4.38" ry="3.5" fill="#000"/>
<path d="M539.3 988.1 Q543.02 989.3 550.15 989 L550.15 992.8 Q543.02 993.1 539.3 994.3Z" fill="#000"/>
<path d="M572.7 986.2 Q568.5 987.8 560.45 988.1 L560.45 991.9 Q568.5 991.6 572.7 993.2Z" fill="#000"/>
<path d="M592.7 986.4 L623.9 986 L623.9 991 L592.7 991.4Z" fill="#000"/>
<ellipse cx="593.26" cy="988.9" rx="7" ry="5.6" fill="#000"/>
<ellipse cx="623.44" cy="988.5" rx="5.75" ry="4.6" fill="#000"/>
<path d="M592.7 983.3 Q599.42 986.4 612.3 986.32 L612.3 991.32 Q599.42 991.4 592.7 994.5Z" fill="#000"/>
<path d="M623.9 983.9 Q618.38 986 607.8 986.08 L607.8 991.08 Q618.38 991 623.9 993.1Z" fill="#000"/>
<path d="M639.8 988.5 C639.8 984.1 642.25 983 646.8 983 Q661.75 986.5 676.7 981.2 C681.25 981.2 683.7 982.3 683.7 986.7 C683.7 991.1 681.25 992.2 676.7 992.2 Q661.75 991.1 646.8 994 C642.25 994 639.8 992.9 639.8 988.5Z" fill="#000"/>
<ellipse cx="646.8" cy="988.8" rx="7.2" ry="6" fill="#000"/>
<ellipse cx="676.8" cy="986.5" rx="7.2" ry="6.2" fill="#000"/>
</g><g filter="url(#b15)" opacity="0.4">
<path d="M488 989.7 L520.9 987.9 L520.9 993.9 L488 995.7Z" fill="#000"/>
<ellipse cx="488.4" cy="992.7" rx="5" ry="4" fill="#000"/>
<ellipse cx="520.56" cy="990.9" rx="4.25" ry="3.4" fill="#000"/>
<path d="M488 988.7 Q492.8 989.7 502 989.34 L502 995.34 Q492.8 995.7 488 996.7Z" fill="#000"/>
<path d="M520.9 987.5 Q516.82 987.9 509 988.26 L509 994.26 Q516.82 993.9 520.9 994.3Z" fill="#000"/>
<path d="M539.3 988.2 L572.7 986.7 L572.7 992.7 L539.3 994.2Z" fill="#000"/>
<ellipse cx="539.61" cy="991.2" rx="3.88" ry="3.1" fill="#000"/>
<ellipse cx="572.35" cy="989.7" rx="4.38" ry="3.5" fill="#000"/>
<path d="M539.3 988.1 Q543.02 988.2 550.15 987.9 L550.15 993.9 Q543.02 994.2 539.3 994.3Z" fill="#000"/>
<path d="M572.7 986.2 Q568.5 986.7 560.45 987 L560.45 993 Q568.5 992.7 572.7 993.2Z" fill="#000"/>
<path d="M592.7 985.4 L623.9 985 L623.9 992 L592.7 992.4Z" fill="#000"/>
<ellipse cx="593.26" cy="988.9" rx="7" ry="5.6" fill="#000"/>
<ellipse cx="623.44" cy="988.5" rx="5.75" ry="4.6" fill="#000"/>
<path d="M592.7 983.3 Q599.42 985.4 612.3 985.32 L612.3 992.32 Q599.42 992.4 592.7 994.5Z" fill="#000"/>
<path d="M623.9 983.9 Q618.38 985 607.8 985.08 L607.8 992.08 Q618.38 992 623.9 993.1Z" fill="#000"/>
</g><g filter="url(#b2)">
<ellipse cx="302" cy="1017.5" rx="10" ry="3.4" fill="#000" fill-opacity="0.7"/>
<ellipse cx="290" cy="1017" rx="16" ry="3.6" fill="#000" fill-opacity="0.3"/>
<ellipse cx="293" cy="1008" rx="18" ry="5" fill="#000" fill-opacity="0.08"/>
<ellipse cx="716" cy="983" rx="19" ry="3.4" fill="#000" fill-opacity="0.05"/>
</g></g>
<g clip-path="url(#c2)">
<g filter="url(#b3)">
<rect x="215" y="1030" width="46" height="75" fill="#000" fill-opacity="0.05"/>
<rect x="270" y="1030" width="44" height="75" fill="#000" fill-opacity="0.05"/>
<rect x="324" y="1030" width="43" height="75" fill="#000" fill-opacity="0.05"/>
<rect x="377" y="1030" width="44" height="75" fill="#000" fill-opacity="0.04"/>
<rect x="432" y="1030" width="41" height="75" fill="#000" fill-opacity="0.04"/>
<rect x="485" y="1030" width="42" height="75" fill="#000" fill-opacity="0.01"/>
<rect x="540" y="1030" width="39" height="75" fill="#000" fill-opacity="0.01"/>
<rect x="591" y="1030" width="41" height="75" fill="#000" fill-opacity="0.02"/>
<rect x="644" y="1030" width="42" height="75" fill="#000" fill-opacity="0.02"/>
<rect x="217" y="1066" width="42" height="13" rx="4" fill="#000" fill-opacity="0.36"/>
<rect x="272" y="1066" width="40" height="13" rx="4" fill="#000" fill-opacity="0.32"/>
<rect x="326" y="1066" width="39" height="13" rx="4" fill="#000" fill-opacity="0.26"/>
<rect x="379" y="1066" width="40" height="13" rx="4" fill="#000" fill-opacity="0.22"/>
<rect x="434" y="1066" width="37" height="13" rx="4" fill="#000" fill-opacity="0.09"/>
</g><g filter="url(#b2)">
<rect x="593" y="1056" width="37" height="20" rx="4" fill="#000" fill-opacity="0.22"/>
<rect x="646" y="1053.5" width="38" height="23" rx="4" fill="#000" fill-opacity="0.36"/>
</g><g filter="url(#b13)">
<path d="M215.6 1059.2 C215.6 1050.4 217.7 1048.2 221.6 1048.2 Q237.6 1049 253.6 1048.2 C257.5 1048.2 259.6 1050.4 259.6 1059.2 C259.6 1068 257.5 1070.2 253.6 1070.2 Q237.6 1069 221.6 1070.2 C217.7 1070.2 215.6 1068 215.6 1059.2Z" fill="#000"/>
<path d="M270.2 1062 C270.2 1053.92 272.3 1051.9 276.2 1051.9 Q291.7 1053.9 307.2 1051.9 C311.1 1051.9 313.2 1053.92 313.2 1062 C313.2 1070.08 311.1 1072.1 307.2 1072.1 Q291.7 1071.3 276.2 1072.1 C272.3 1072.1 270.2 1070.08 270.2 1062Z" fill="#000"/>
<path d="M324.8 1061.6 C324.8 1053.84 326.9 1051.9 330.8 1051.9 Q345.4 1053.5 360 1051.9 C363.9 1051.9 366 1053.84 366 1061.6 C366 1069.36 363.9 1071.3 360 1071.3 Q345.4 1070.1 330.8 1071.3 C326.9 1071.3 324.8 1069.36 324.8 1061.6Z" fill="#000"/>
<path d="M377.6 1059.8 C377.6 1051.32 379.7 1049.2 383.6 1049.2 Q399.1 1052.8 414.6 1049.2 C418.5 1049.2 420.6 1051.32 420.6 1059.8 C420.6 1068.28 418.5 1070.4 414.6 1070.4 Q399.1 1068.8 383.6 1070.4 C379.7 1070.4 377.6 1068.28 377.6 1059.8Z" fill="#000"/>
</g><g filter="url(#b15)">
<rect x="277" y="1054" width="30" height="7" rx="3" fill="#6c6c6c"/>
<rect x="329" y="1056.8" width="32.5" height="8" rx="3.2" fill="#858585"/>
<rect x="383" y="1059.4" width="32" height="8" rx="3.2" fill="#787878"/>
</g><g filter="url(#b2)">
<ellipse cx="233" cy="1054.5" rx="7" ry="1.8" fill="#444"/>
</g><g filter="url(#b13)">
<path d="M432.6 1066.8 C432.6 1064.16 433.48 1063.5 435.1 1063.5 Q452.45 1064.3 469.8 1063.5 C471.43 1063.5 472.3 1064.16 472.3 1066.8 C472.3 1069.44 471.43 1070.1 469.8 1070.1 Q452.45 1069.3 435.1 1070.1 C433.48 1070.1 432.6 1069.44 432.6 1066.8Z" fill="#000" fill-opacity="0.62"/>
<path d="M433 1057.3 C433 1054.74 433.88 1054.1 435.5 1054.1 Q452.5 1054.5 469.5 1054.1 C471.12 1054.1 472 1054.74 472 1057.3 C472 1059.86 471.12 1060.5 469.5 1060.5 Q452.5 1060.1 435.5 1060.5 C433.88 1060.5 433 1059.86 433 1057.3Z" fill="#000" fill-opacity="0.22"/>
<rect x="432.2" y="1054.5" width="4" height="15" rx="1.8" fill="#000" fill-opacity="0.28"/>
<rect x="468.6" y="1054.5" width="4" height="15" rx="1.8" fill="#000" fill-opacity="0.28"/>
</g><g filter="url(#b2)">
<path d="M486 1065.5 C486 1062.7 487.41 1062 490.02 1062 Q506 1062 521.98 1062 C524.59 1062 526 1062.7 526 1065.5 C526 1068.3 524.59 1069 521.98 1069 Q506 1069 490.02 1069 C487.41 1069 486 1068.3 486 1065.5Z" fill="#000" fill-opacity="0.06"/>
<ellipse cx="488" cy="1065.5" rx="2.5" ry="4.5" fill="#000" fill-opacity="0.07"/>
<ellipse cx="523.8" cy="1065.5" rx="2.5" ry="5" fill="#000" fill-opacity="0.13"/>
<path d="M540 1066 C540 1063.2 541.41 1062.5 544.02 1062.5 Q559.25 1062.5 574.48 1062.5 C577.09 1062.5 578.5 1063.2 578.5 1066 C578.5 1068.8 577.09 1069.5 574.48 1069.5 Q559.25 1069.5 544.02 1069.5 C541.41 1069.5 540 1068.8 540 1066Z" fill="#000" fill-opacity="0.06"/>
<ellipse cx="542" cy="1066" rx="2.5" ry="4.5" fill="#000" fill-opacity="0.09"/>
<ellipse cx="577" cy="1066" rx="2.5" ry="4.5" fill="#000" fill-opacity="0.06"/>
</g><g filter="url(#b1)">
</g><g filter="url(#b15)">
<path d="M592 1068.2 C592 1064.6 593.05 1063.7 595 1063.7 Q611.75 1064.9 628.5 1063.7 C630.45 1063.7 631.5 1064.6 631.5 1068.2 C631.5 1071.8 630.45 1072.7 628.5 1072.7 Q611.75 1072.5 595 1072.7 C593.05 1072.7 592 1071.8 592 1068.2Z" fill="#000" fill-opacity="0.85"/>
<path d="M645 1068.2 C645 1063.6 646.23 1062.45 648.5 1062.45 Q665.3 1063.45 682.1 1062.45 C684.38 1062.45 685.6 1063.6 685.6 1068.2 C685.6 1072.8 684.38 1073.95 682.1 1073.95 Q665.3 1073.75 648.5 1073.95 C646.23 1073.95 645 1072.8 645 1068.2Z" fill="#000" fill-opacity="0.95"/>
</g><g filter="url(#b1)">
<ellipse cx="595" cy="1068.6" rx="4" ry="4.8" fill="#000"/>
<ellipse cx="628.8" cy="1068.6" rx="3.8" ry="4.6" fill="#000"/>
<ellipse cx="648.6" cy="1068.6" rx="5" ry="5.8" fill="#000"/>
<ellipse cx="682" cy="1069.6" rx="4.4" ry="5.2" fill="#000"/>
<path d="M598 1068.8 C598 1067.04 598.7 1066.6 600 1066.6 Q612 1067.2 624 1066.6 C625.3 1066.6 626 1067.04 626 1068.8 C626 1070.56 625.3 1071 624 1071 Q612 1071 600 1071 C598.7 1071 598 1070.56 598 1068.8Z" fill="#000" fill-opacity="0.7"/>
<path d="M652 1069 C652 1066.76 652.7 1066.2 654 1066.2 Q665.5 1066.8 677 1066.2 C678.3 1066.2 679 1066.76 679 1069 C679 1071.24 678.3 1071.8 677 1071.8 Q665.5 1071.8 654 1071.8 C652.7 1071.8 652 1071.24 652 1069Z" fill="#000" fill-opacity="0.8"/>
</g>
<circle cx="647.3" cy="1043.2" r="1.3" fill="#555" filter="url(#b0)"/>
</g>
<g clip-path="url(#c3)"><g filter="url(#b0)">
<path d="M212.7 1135 C212.7 1128.12 216.16 1126.4 222.59 1126.4 Q239.95 1128.2 257.31 1129.2 C263.74 1129.2 267.2 1130.92 267.2 1137.8 C267.2 1144.68 263.74 1146.4 257.31 1146.4 Q239.95 1145 222.59 1143.6 C216.16 1143.6 212.7 1141.88 212.7 1135Z" fill="#000"/>
<path d="M270.2 1138.8 C270.2 1132.08 273.58 1130.4 279.86 1130.4 Q295.05 1130.8 310.24 1130.4 C316.52 1130.4 319.9 1132.08 319.9 1138.8 C319.9 1145.52 316.52 1147.2 310.24 1147.2 Q295.05 1144.6 279.86 1147.2 C273.58 1147.2 270.2 1145.52 270.2 1138.8Z" fill="#000"/>
<path d="M324 1138.5 C324 1132.02 327.26 1130.4 333.31 1130.4 Q348.55 1130.4 363.79 1130.4 C369.84 1130.4 373.1 1132.02 373.1 1138.5 C373.1 1144.98 369.84 1146.6 363.79 1146.6 Q348.55 1144.6 333.31 1146.6 C327.26 1146.6 324 1144.98 324 1138.5Z" fill="#000"/>
<path d="M377.4 1138.5 C377.4 1132.26 380.54 1130.7 386.37 1130.7 Q401.2 1131.2 416.03 1130.1 C421.86 1130.1 425 1131.66 425 1137.9 C425 1144.14 421.86 1145.7 416.03 1145.7 Q401.2 1144.4 386.37 1146.3 C380.54 1146.3 377.4 1144.74 377.4 1138.5Z" fill="#000"/>
<path d="M429.6 1136.4 C429.6 1130.72 432.46 1129.3 437.77 1129.3 Q453.1 1129.7 468.44 1129.3 C473.74 1129.3 476.6 1130.72 476.6 1136.4 C476.6 1142.08 473.74 1143.5 468.44 1143.5 Q453.1 1141.9 437.77 1143.5 C432.46 1143.5 429.6 1142.08 429.6 1136.4Z" fill="#000"/>
<path d="M482.2 1136.6 C482.2 1131.08 484.98 1129.7 490.13 1129.7 Q506.1 1130.3 522.07 1129.7 C527.22 1129.7 530 1131.08 530 1136.6 C530 1142.12 527.22 1143.5 522.07 1143.5 Q506.1 1141.7 490.13 1143.5 C484.98 1143.5 482.2 1142.12 482.2 1136.6Z" fill="#000"/>
<path d="M535 1136.8 C535 1131.28 537.78 1129.9 542.93 1129.9 Q559.15 1130.3 575.37 1130.7 C580.52 1130.7 583.3 1132.08 583.3 1137.6 C583.3 1143.12 580.52 1144.5 575.37 1144.5 Q559.15 1142.9 542.93 1143.7 C537.78 1143.7 535 1142.32 535 1136.8Z" fill="#000"/>
<path d="M587.7 1137.3 C587.7 1131.46 590.64 1130 596.1 1130 Q611.2 1130.3 626.31 1130.6 C631.76 1130.6 634.7 1132.06 634.7 1137.9 C634.7 1143.74 631.76 1145.2 626.31 1145.2 Q611.2 1143.5 596.1 1144.6 C590.64 1144.6 587.7 1143.14 587.7 1137.3Z" fill="#000"/>
<path d="M639.3 1138.2 C639.3 1132.36 642.24 1130.9 647.69 1130.9 Q663.55 1131.4 679.4 1131.9 C684.86 1131.9 687.8 1133.36 687.8 1139.2 C687.8 1145.04 684.86 1146.5 679.4 1146.5 Q663.55 1144.4 647.69 1145.5 C642.24 1145.5 639.3 1144.04 639.3 1138.2Z" fill="#000"/>
<path d="M692.6 1139.85 C692.6 1134.49 695.3 1133.15 700.31 1133.15 Q717.95 1134.1 735.59 1132.65 C740.6 1132.65 743.3 1133.99 743.3 1139.35 C743.3 1144.71 740.6 1146.05 735.59 1146.05 Q717.95 1145.9 700.31 1146.55 C695.3 1146.55 692.6 1145.21 692.6 1139.85Z" fill="#000"/>
</g></g>
<rect x="208.3" y="959.2" width="536.6" height="63.4" fill="none" stroke="#000" stroke-width="2.8"/>
<rect x="208.3" y="1034.8" width="536.6" height="61.1" fill="none" stroke="#000" stroke-width="2.8"/>
<rect x="208.3" y="1108.5" width="536.6" height="59.3" fill="none" stroke="#000" stroke-width="2.8"/>
<line x1="746.3" y1="963.7" x2="752.3" y2="963.7" stroke="#000" stroke-width="2.8"/>
<text x="755.8" y="969.8" font-size="21">150</text>
<line x1="746.3" y1="1005.1" x2="752.3" y2="1005.1" stroke="#000" stroke-width="2.8"/>
<text x="755.8" y="1011.2" font-size="21">100</text>
<line x1="746.3" y1="1040.2" x2="752.3" y2="1040.2" stroke="#000" stroke-width="2.8"/>
<text x="755.8" y="1046.3" font-size="21">150</text>
<line x1="746.3" y1="1080" x2="752.3" y2="1080" stroke="#000" stroke-width="2.8"/>
<text x="755.8" y="1086.1" font-size="21">100</text>
<line x1="746.3" y1="1126.8" x2="752.3" y2="1126.8" stroke="#000" stroke-width="2.8"/>
<text x="755.8" y="1132.9" font-size="21">37</text>
</g></svg></body></html>
